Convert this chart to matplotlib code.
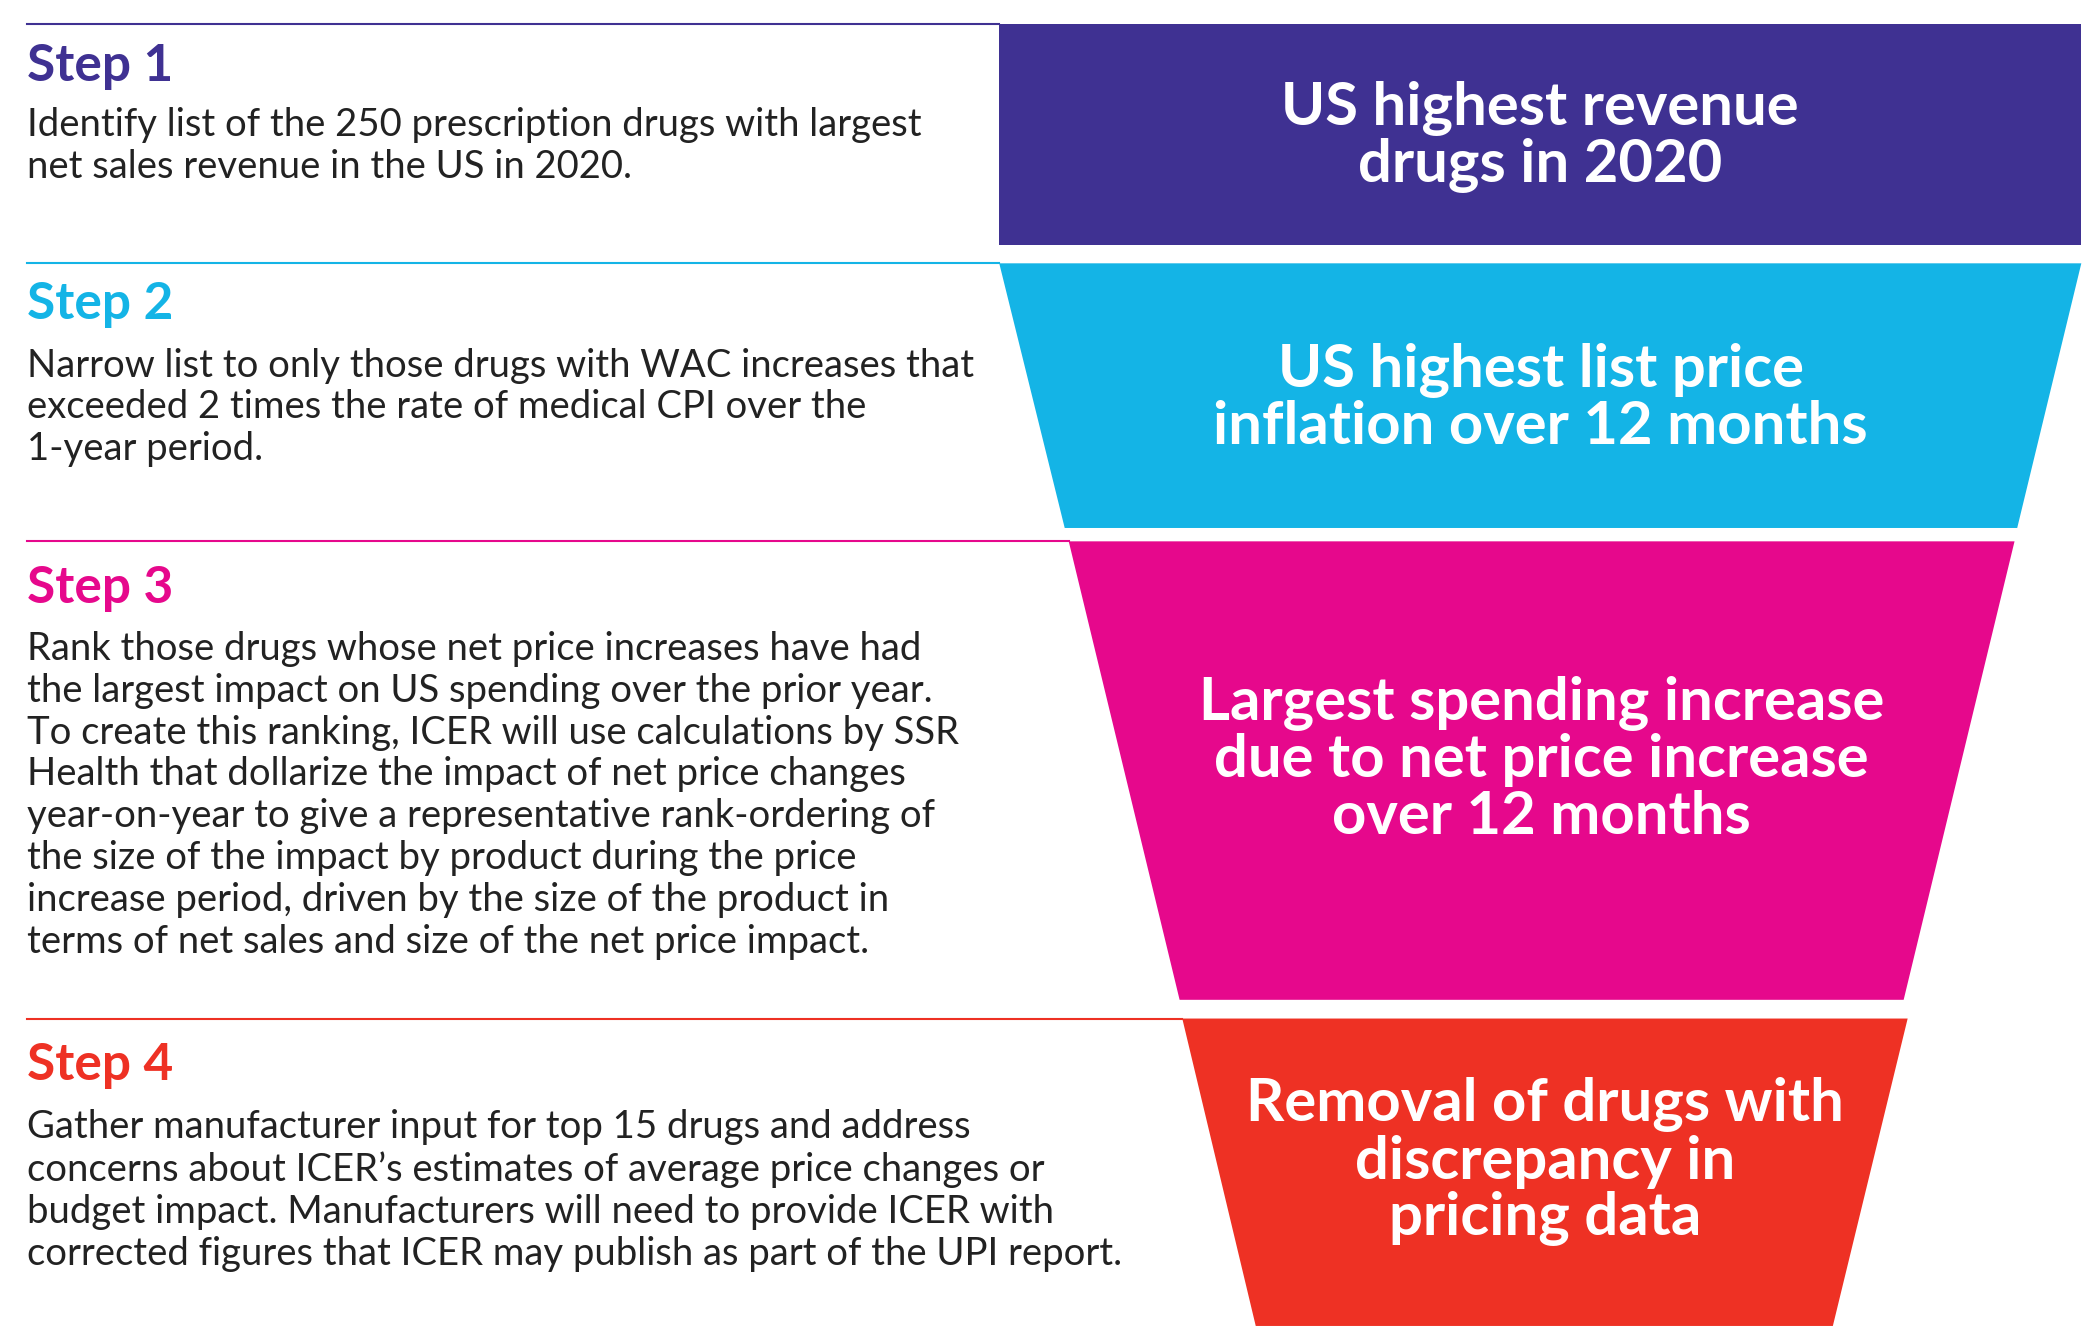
import matplotlib
matplotlib.use("Agg")
import matplotlib.pyplot as plt
from matplotlib.patches import Polygon

steps = ["Step 1", "Step 2", "Step 3", "Step 4"]
colors = ["#3F3192", "#14B4E6", "#E6088C", "#EE3124"]
descriptions = [
    "Identify list of the 250 prescription drugs with largest\nnet sales revenue in the US in 2020.",
    "Narrow list to only those drugs with WAC increases that\nexceeded 2 times the rate of medical CPI over the\n1-year period.",
    "Rank those drugs whose net price increases have had\nthe largest impact on US spending over the prior year.\nTo create this ranking, ICER will use calculations by SSR\nHealth that dollarize the impact of net price changes\nyear-on-year to give a representative rank-ordering of\nthe size of the impact by product during the price\nincrease period, driven by the size of the product in\nterms of net sales and size of the net price impact.",
    "Gather manufacturer input for top 15 drugs and address\nconcerns about ICER\u2019s estimates of average price changes or\nbudget impact. Manufacturers will need to provide ICER with\ncorrected figures that ICER may publish as part of the UPI report.",
]
box_labels = [
    "US highest revenue\ndrugs in 2020",
    "US highest list price\ninflation over 12 months",
    "Largest spending increase\ndue to net price increase\nover 12 months",
    "Removal of drugs with\ndiscrepancy in\npricing data",
]
# layout (display units of a 1560 x 1004 canvas)
tops = [18, 197, 405, 762]
bottoms = [183, 395, 748, 992]
top_x = [(748, 1558), (748, 1558), (800, 1508), (885, 1428)]
bot_x = [(748, 1558), (797, 1510), (883, 1425), (940, 1372)]
line_end = [748, 748, 800, 885]
head_y = [50, 228, 440, 797]
desc_y = [80, 260, 472, 830]

plt.rcParams['font.family'] = ['Lato', 'DejaVu Sans']
fig = plt.figure(figsize=(20.84, 13.42), dpi=100)
ax = fig.add_axes([0, 0, 1, 1])
ax.set_xlim(0, 1560)
ax.set_ylim(1004, 0)
ax.axis('off')

for i in range(4):
    c = colors[i]
    ax.plot([20, line_end[i]], [tops[i], tops[i]], color=c, lw=1.5)
    poly = Polygon([(top_x[i][0], tops[i]), (top_x[i][1], tops[i]),
                    (bot_x[i][1], bottoms[i]), (bot_x[i][0], bottoms[i])],
                   closed=True, facecolor=c, edgecolor='none')
    ax.add_patch(poly)
    ax.text(20, head_y[i], steps[i], color=c, fontsize=37, fontweight='bold',
            va='center', ha='left')
    ax.text(20, desc_y[i], descriptions[i], color='#222222', fontsize=27.5,
            va='top', ha='left', linespacing=1.2)
    cx = (top_x[i][0] + top_x[i][1] + bot_x[i][0] + bot_x[i][1]) / 4
    cy = (tops[i] + bottoms[i]) / 2 + (2 if i < 2 else -8)
    ax.text(cx, cy, box_labels[i], color='white', fontsize=43, fontweight='bold',
            va='center', ha='center', linespacing=1.05)

fig.savefig("out.png", dpi=100, facecolor='white')
